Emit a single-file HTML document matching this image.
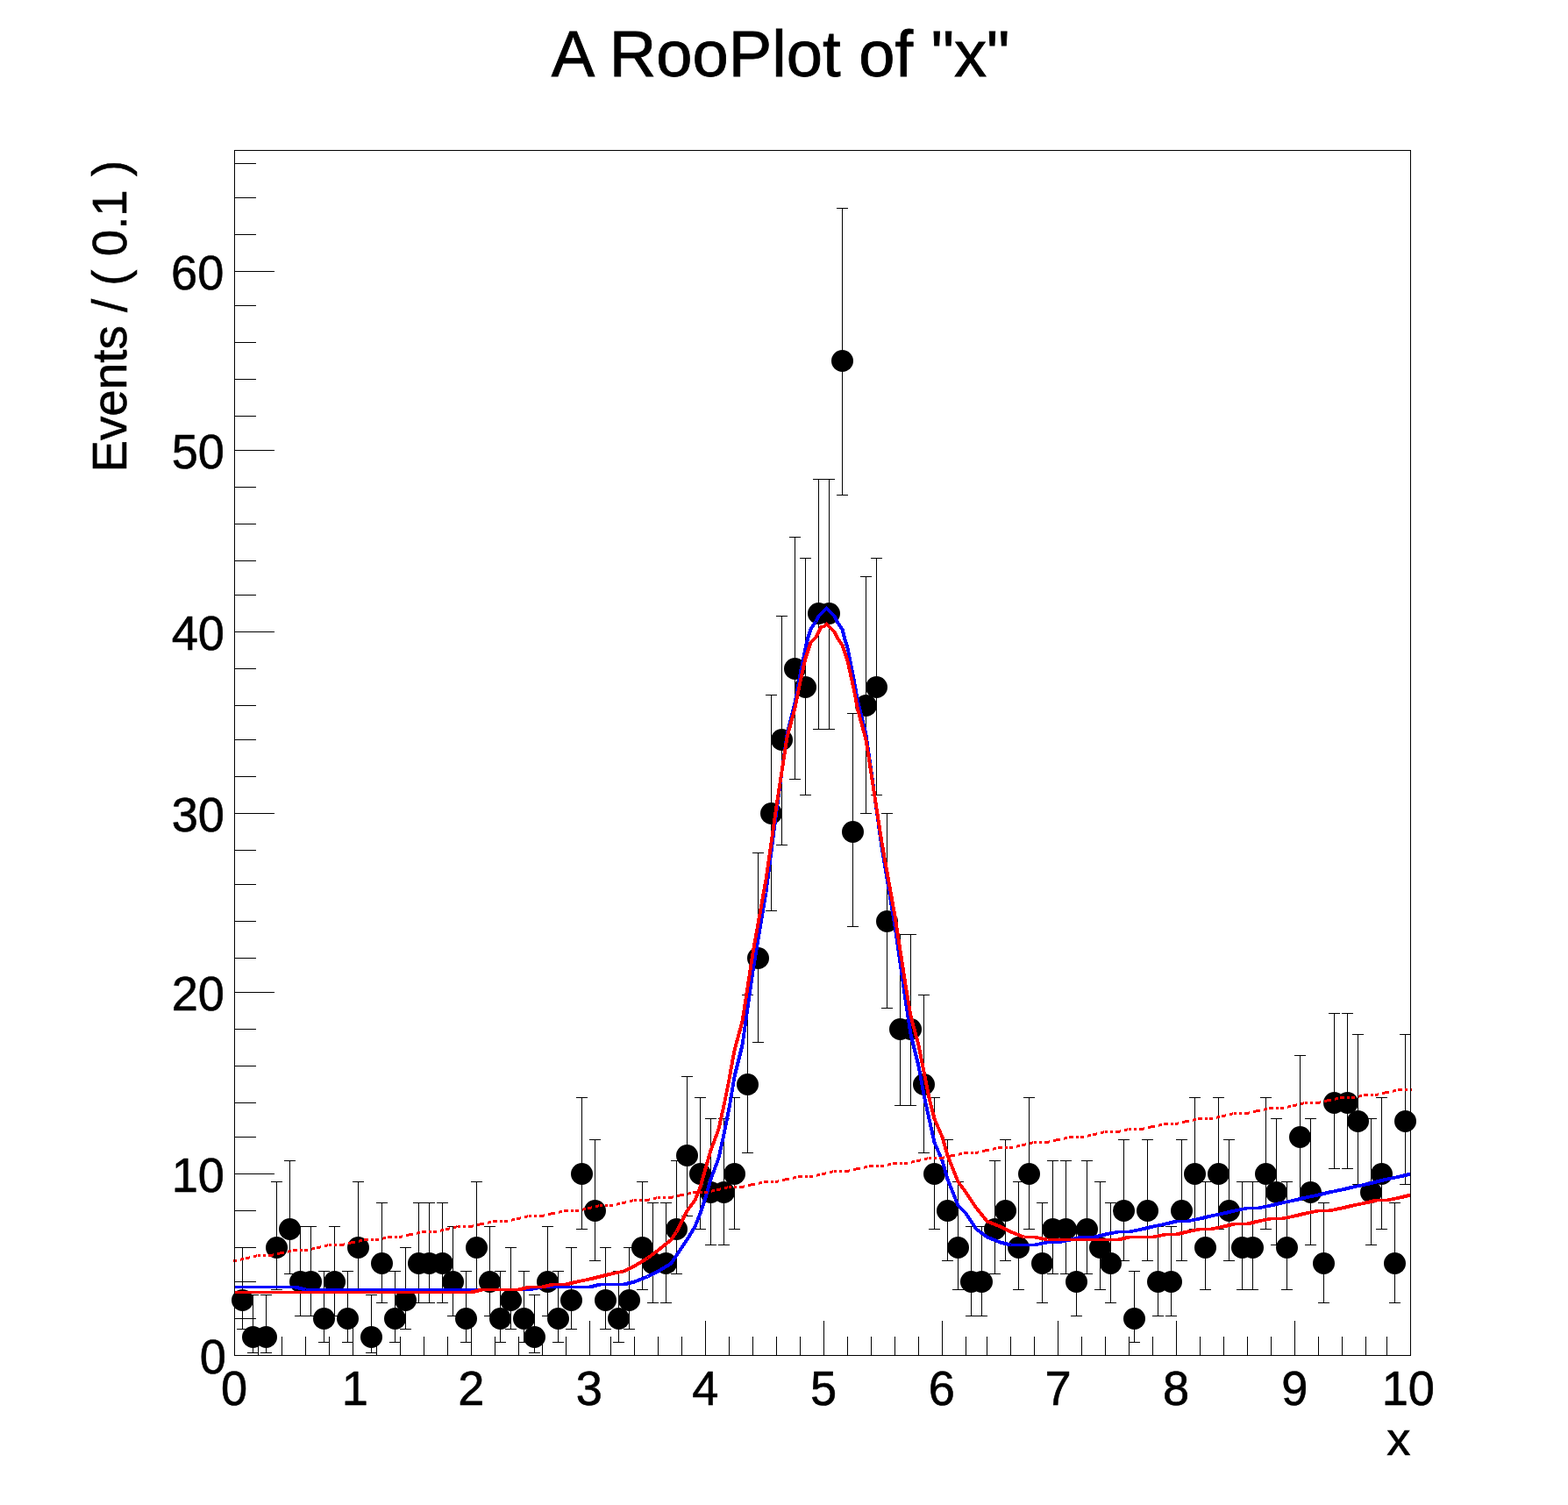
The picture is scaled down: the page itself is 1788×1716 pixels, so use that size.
<!DOCTYPE html>
<html><head><meta charset="utf-8"><title>A RooPlot of "x"</title>
<style>html,body{margin:0;padding:0;background:#fff}svg{display:block}text{font-family:"Liberation Sans",sans-serif;fill:#000}</style>
</head><body>
<svg width="1788" height="1716" viewBox="0 0 1788 1716">
<rect x="0" y="0" width="1788" height="1716" fill="#fff"/>
<g stroke="#000" stroke-width="1" fill="none" shape-rendering="crispEdges">
<path d="M276.5 1422V1516M270 1422.5h13M270 1515.5h13M288.5 1476V1543M282 1476.5h13M282 1542.5h13M303.5 1476V1543M297 1476.5h13M297 1542.5h13M315.5 1347V1471M309 1347.5h13M309 1470.5h13M330.5 1323V1453M324 1323.5h13M324 1452.5h13M342.5 1398V1501M336 1398.5h13M336 1500.5h13M354.5 1398V1501M348 1398.5h13M348 1500.5h13M369.5 1449V1531M363 1449.5h13M363 1530.5h13M381.5 1398V1501M375 1398.5h13M375 1500.5h13M396.5 1449V1531M390 1449.5h13M390 1530.5h13M408.5 1347V1471M402 1347.5h13M402 1470.5h13M423.5 1476V1543M417 1476.5h13M417 1542.5h13M435.5 1371V1486M429 1371.5h13M429 1485.5h13M450.5 1449V1531M444 1449.5h13M444 1530.5h13M462.5 1422V1516M456 1422.5h13M456 1515.5h13M477.5 1371V1486M471 1371.5h13M471 1485.5h13M489.5 1371V1486M483 1371.5h13M483 1485.5h13M504.5 1371V1486M498 1371.5h13M498 1485.5h13M516.5 1398V1501M510 1398.5h13M510 1500.5h13M531.5 1449V1531M525 1449.5h13M525 1530.5h13M543.5 1347V1471M537 1347.5h13M537 1470.5h13M558.5 1398V1501M552 1398.5h13M552 1500.5h13M570.5 1449V1531M564 1449.5h13M564 1530.5h13M582.5 1422V1516M576 1422.5h13M576 1515.5h13M597.5 1449V1531M591 1449.5h13M591 1530.5h13M609.5 1476V1543M603 1476.5h13M603 1542.5h13M624.5 1398V1501M618 1398.5h13M618 1500.5h13M636.5 1449V1531M630 1449.5h13M630 1530.5h13M651.5 1422V1516M645 1422.5h13M645 1515.5h13M663.5 1251V1402M657 1251.5h13M657 1401.5h13M678.5 1299V1438M672 1299.5h13M672 1437.5h13M690.5 1422V1516M684 1422.5h13M684 1515.5h13M705.5 1449V1531M699 1449.5h13M699 1530.5h13M717.5 1422V1516M711 1422.5h13M711 1515.5h13M732.5 1347V1471M726 1347.5h13M726 1470.5h13M744.5 1371V1486M738 1371.5h13M738 1485.5h13M759.5 1371V1486M753 1371.5h13M753 1485.5h13M771.5 1323V1453M765 1323.5h13M765 1452.5h13M783.5 1227V1387M777 1227.5h13M777 1386.5h13M798.5 1251V1402M792 1251.5h13M792 1401.5h13M810.5 1275V1420M804 1275.5h13M804 1419.5h13M825.5 1275V1420M819 1275.5h13M819 1419.5h13M837.5 1251V1402M831 1251.5h13M831 1401.5h13M852.5 1134V1315M846 1134.5h13M846 1314.5h13M864.5 972V1189M858 972.5h13M858 1188.5h13M879.5 792V1039M873 792.5h13M873 1038.5h13M891.5 702V964M885 702.5h13M885 963.5h13M906.5 612V889M900 612.5h13M900 888.5h13M918.5 636V907M912 636.5h13M912 906.5h13M933.5 546V832M927 546.5h13M927 831.5h13M945.5 546V832M939 546.5h13M939 831.5h13M960.5 237V565M954 237.5h13M954 564.5h13M972.5 813V1057M966 813.5h13M966 1056.5h13M987.5 657V928M981 657.5h13M981 927.5h13M999.5 636V907M993 636.5h13M993 906.5h13M1011.5 927V1150M1005 927.5h13M1005 1149.5h13M1026.5 1065V1261M1020 1065.5h13M1020 1260.5h13M1038.5 1065V1261M1032 1065.5h13M1032 1260.5h13M1053.5 1134V1315M1047 1134.5h13M1047 1314.5h13M1065.5 1251V1402M1059 1251.5h13M1059 1401.5h13M1080.5 1299V1438M1074 1299.5h13M1074 1437.5h13M1092.5 1347V1471M1086 1347.5h13M1086 1470.5h13M1107.5 1398V1501M1101 1398.5h13M1101 1500.5h13M1119.5 1398V1501M1113 1398.5h13M1113 1500.5h13M1134.5 1323V1453M1128 1323.5h13M1128 1452.5h13M1146.5 1299V1438M1140 1299.5h13M1140 1437.5h13M1161.5 1347V1471M1155 1347.5h13M1155 1470.5h13M1173.5 1251V1402M1167 1251.5h13M1167 1401.5h13M1188.5 1371V1486M1182 1371.5h13M1182 1485.5h13M1200.5 1323V1453M1194 1323.5h13M1194 1452.5h13M1215.5 1323V1453M1209 1323.5h13M1209 1452.5h13M1227.5 1398V1501M1221 1398.5h13M1221 1500.5h13M1239.5 1323V1453M1233 1323.5h13M1233 1452.5h13M1254.5 1347V1471M1248 1347.5h13M1248 1470.5h13M1266.5 1371V1486M1260 1371.5h13M1260 1485.5h13M1281.5 1299V1438M1275 1299.5h13M1275 1437.5h13M1293.5 1449V1531M1287 1449.5h13M1287 1530.5h13M1308.5 1299V1438M1302 1299.5h13M1302 1437.5h13M1320.5 1398V1501M1314 1398.5h13M1314 1500.5h13M1335.5 1398V1501M1329 1398.5h13M1329 1500.5h13M1347.5 1299V1438M1341 1299.5h13M1341 1437.5h13M1362.5 1251V1402M1356 1251.5h13M1356 1401.5h13M1374.5 1347V1471M1368 1347.5h13M1368 1470.5h13M1389.5 1251V1402M1383 1251.5h13M1383 1401.5h13M1401.5 1299V1438M1395 1299.5h13M1395 1437.5h13M1416.5 1347V1471M1410 1347.5h13M1410 1470.5h13M1428.5 1347V1471M1422 1347.5h13M1422 1470.5h13M1443.5 1251V1402M1437 1251.5h13M1437 1401.5h13M1455.5 1275V1420M1449 1275.5h13M1449 1419.5h13M1467.5 1347V1471M1461 1347.5h13M1461 1470.5h13M1482.5 1203V1369M1476 1203.5h13M1476 1368.5h13M1494.5 1275V1420M1488 1275.5h13M1488 1419.5h13M1509.5 1371V1486M1503 1371.5h13M1503 1485.5h13M1521.5 1155V1333M1515 1155.5h13M1515 1332.5h13M1536.5 1155V1333M1530 1155.5h13M1530 1332.5h13M1548.5 1179V1351M1542 1179.5h13M1542 1350.5h13M1563.5 1275V1420M1557 1275.5h13M1557 1419.5h13M1575.5 1251V1402M1569 1251.5h13M1569 1401.5h13M1590.5 1371V1486M1584 1371.5h13M1584 1485.5h13M1602.5 1179V1351M1596 1179.5h13M1596 1350.5h13"/>
</g>
<g fill="#000"><circle cx="276.5" cy="1482.5" r="12.5"/><circle cx="288.5" cy="1524.5" r="12.5"/><circle cx="303.5" cy="1524.5" r="12.5"/><circle cx="315.5" cy="1422.5" r="12.5"/><circle cx="330.5" cy="1401.5" r="12.5"/><circle cx="342.5" cy="1461.5" r="12.5"/><circle cx="354.5" cy="1461.5" r="12.5"/><circle cx="369.5" cy="1503.5" r="12.5"/><circle cx="381.5" cy="1461.5" r="12.5"/><circle cx="396.5" cy="1503.5" r="12.5"/><circle cx="408.5" cy="1422.5" r="12.5"/><circle cx="423.5" cy="1524.5" r="12.5"/><circle cx="435.5" cy="1440.5" r="12.5"/><circle cx="450.5" cy="1503.5" r="12.5"/><circle cx="462.5" cy="1482.5" r="12.5"/><circle cx="477.5" cy="1440.5" r="12.5"/><circle cx="489.5" cy="1440.5" r="12.5"/><circle cx="504.5" cy="1440.5" r="12.5"/><circle cx="516.5" cy="1461.5" r="12.5"/><circle cx="531.5" cy="1503.5" r="12.5"/><circle cx="543.5" cy="1422.5" r="12.5"/><circle cx="558.5" cy="1461.5" r="12.5"/><circle cx="570.5" cy="1503.5" r="12.5"/><circle cx="582.5" cy="1482.5" r="12.5"/><circle cx="597.5" cy="1503.5" r="12.5"/><circle cx="609.5" cy="1524.5" r="12.5"/><circle cx="624.5" cy="1461.5" r="12.5"/><circle cx="636.5" cy="1503.5" r="12.5"/><circle cx="651.5" cy="1482.5" r="12.5"/><circle cx="663.5" cy="1338.5" r="12.5"/><circle cx="678.5" cy="1380.5" r="12.5"/><circle cx="690.5" cy="1482.5" r="12.5"/><circle cx="705.5" cy="1503.5" r="12.5"/><circle cx="717.5" cy="1482.5" r="12.5"/><circle cx="732.5" cy="1422.5" r="12.5"/><circle cx="744.5" cy="1440.5" r="12.5"/><circle cx="759.5" cy="1440.5" r="12.5"/><circle cx="771.5" cy="1401.5" r="12.5"/><circle cx="783.5" cy="1317.5" r="12.5"/><circle cx="798.5" cy="1338.5" r="12.5"/><circle cx="810.5" cy="1359.5" r="12.5"/><circle cx="825.5" cy="1359.5" r="12.5"/><circle cx="837.5" cy="1338.5" r="12.5"/><circle cx="852.5" cy="1236.5" r="12.5"/><circle cx="864.5" cy="1092.5" r="12.5"/><circle cx="879.5" cy="927.5" r="12.5"/><circle cx="891.5" cy="843.5" r="12.5"/><circle cx="906.5" cy="762.5" r="12.5"/><circle cx="918.5" cy="783.5" r="12.5"/><circle cx="933.5" cy="699.5" r="12.5"/><circle cx="945.5" cy="699.5" r="12.5"/><circle cx="960.5" cy="411.5" r="12.5"/><circle cx="972.5" cy="948.5" r="12.5"/><circle cx="987.5" cy="804.5" r="12.5"/><circle cx="999.5" cy="783.5" r="12.5"/><circle cx="1011.5" cy="1050.5" r="12.5"/><circle cx="1026.5" cy="1173.5" r="12.5"/><circle cx="1038.5" cy="1173.5" r="12.5"/><circle cx="1053.5" cy="1236.5" r="12.5"/><circle cx="1065.5" cy="1338.5" r="12.5"/><circle cx="1080.5" cy="1380.5" r="12.5"/><circle cx="1092.5" cy="1422.5" r="12.5"/><circle cx="1107.5" cy="1461.5" r="12.5"/><circle cx="1119.5" cy="1461.5" r="12.5"/><circle cx="1134.5" cy="1401.5" r="12.5"/><circle cx="1146.5" cy="1380.5" r="12.5"/><circle cx="1161.5" cy="1422.5" r="12.5"/><circle cx="1173.5" cy="1338.5" r="12.5"/><circle cx="1188.5" cy="1440.5" r="12.5"/><circle cx="1200.5" cy="1401.5" r="12.5"/><circle cx="1215.5" cy="1401.5" r="12.5"/><circle cx="1227.5" cy="1461.5" r="12.5"/><circle cx="1239.5" cy="1401.5" r="12.5"/><circle cx="1254.5" cy="1422.5" r="12.5"/><circle cx="1266.5" cy="1440.5" r="12.5"/><circle cx="1281.5" cy="1380.5" r="12.5"/><circle cx="1293.5" cy="1503.5" r="12.5"/><circle cx="1308.5" cy="1380.5" r="12.5"/><circle cx="1320.5" cy="1461.5" r="12.5"/><circle cx="1335.5" cy="1461.5" r="12.5"/><circle cx="1347.5" cy="1380.5" r="12.5"/><circle cx="1362.5" cy="1338.5" r="12.5"/><circle cx="1374.5" cy="1422.5" r="12.5"/><circle cx="1389.5" cy="1338.5" r="12.5"/><circle cx="1401.5" cy="1380.5" r="12.5"/><circle cx="1416.5" cy="1422.5" r="12.5"/><circle cx="1428.5" cy="1422.5" r="12.5"/><circle cx="1443.5" cy="1338.5" r="12.5"/><circle cx="1455.5" cy="1359.5" r="12.5"/><circle cx="1467.5" cy="1422.5" r="12.5"/><circle cx="1482.5" cy="1296.5" r="12.5"/><circle cx="1494.5" cy="1359.5" r="12.5"/><circle cx="1509.5" cy="1440.5" r="12.5"/><circle cx="1521.5" cy="1257.5" r="12.5"/><circle cx="1536.5" cy="1257.5" r="12.5"/><circle cx="1548.5" cy="1278.5" r="12.5"/><circle cx="1563.5" cy="1359.5" r="12.5"/><circle cx="1575.5" cy="1338.5" r="12.5"/><circle cx="1590.5" cy="1440.5" r="12.5"/><circle cx="1602.5" cy="1278.5" r="12.5"/></g>
<g shape-rendering="crispEdges">
<polyline points="267.5,1467.5 282.5,1467.5 294.5,1467.5 309.5,1467.5 321.5,1467.5 336.5,1467.5 348.5,1470.5 363.5,1470.5 375.5,1470.5 390.5,1470.5 402.5,1470.5 417.5,1470.5 429.5,1470.5 444.5,1470.5 456.5,1470.5 468.5,1470.5 483.5,1470.5 495.5,1470.5 510.5,1470.5 522.5,1470.5 537.5,1470.5 549.5,1470.5 564.5,1470.5 576.5,1470.5 591.5,1470.5 603.5,1470.5 618.5,1467.5 630.5,1467.5 645.5,1467.5 657.5,1467.5 672.5,1467.5 684.5,1464.5 696.5,1464.5 711.5,1464.5 723.5,1461.5 738.5,1455.5 750.5,1449.5 765.5,1440.5 771.5,1431.5 777.5,1422.5 783.5,1413.5 792.5,1398.5 798.5,1383.5 804.5,1365.5 810.5,1344.5 819.5,1320.5 825.5,1293.5 831.5,1263.5 837.5,1227.5 846.5,1191.5 852.5,1149.5 858.5,1107.5 873.5,1017.5 885.5,924.5 891.5,879.5 897.5,837.5 906.5,801.5 912.5,768.5 918.5,738.5 921.5,726.5 924.5,717.5 930.5,708.5 933.5,702.5 936.5,699.5 939.5,696.5 942.5,693.5 945.5,696.5 948.5,699.5 951.5,702.5 954.5,708.5 960.5,717.5 963.5,729.5 966.5,738.5 972.5,768.5 978.5,801.5 987.5,837.5 993.5,879.5 1005.5,966.5 1020.5,1056.5 1026.5,1098.5 1032.5,1140.5 1038.5,1179.5 1047.5,1215.5 1053.5,1248.5 1059.5,1275.5 1065.5,1302.5 1074.5,1323.5 1080.5,1344.5 1086.5,1359.5 1092.5,1374.5 1101.5,1383.5 1107.5,1392.5 1113.5,1401.5 1125.5,1410.5 1140.5,1416.5 1152.5,1419.5 1167.5,1419.5 1179.5,1419.5 1194.5,1416.5 1206.5,1416.5 1221.5,1413.5 1233.5,1410.5 1248.5,1410.5 1260.5,1407.5 1275.5,1404.5 1287.5,1404.5 1302.5,1401.5 1314.5,1398.5 1329.5,1395.5 1341.5,1392.5 1353.5,1392.5 1368.5,1389.5 1380.5,1386.5 1395.5,1383.5 1407.5,1380.5 1422.5,1377.5 1434.5,1377.5 1449.5,1374.5 1461.5,1371.5 1476.5,1368.5 1488.5,1365.5 1503.5,1362.5 1515.5,1359.5 1530.5,1356.5 1542.5,1353.5 1557.5,1350.5 1569.5,1347.5 1581.5,1344.5 1596.5,1341.5 1608.5,1338.5" fill="none" stroke="#0000ff" stroke-width="3.9" stroke-linejoin="round"/>
<polyline points="267.5,1473.5 282.5,1473.5 294.5,1473.5 309.5,1473.5 321.5,1473.5 336.5,1473.5 348.5,1473.5 363.5,1473.5 375.5,1473.5 390.5,1473.5 402.5,1473.5 417.5,1473.5 429.5,1473.5 444.5,1473.5 456.5,1473.5 468.5,1473.5 483.5,1473.5 495.5,1473.5 510.5,1473.5 522.5,1473.5 537.5,1473.5 549.5,1470.5 564.5,1470.5 576.5,1470.5 591.5,1470.5 603.5,1467.5 618.5,1467.5 630.5,1464.5 645.5,1464.5 657.5,1461.5 672.5,1458.5 684.5,1455.5 696.5,1452.5 711.5,1449.5 723.5,1443.5 738.5,1434.5 750.5,1425.5 765.5,1413.5 771.5,1404.5 777.5,1392.5 783.5,1380.5 792.5,1368.5 798.5,1353.5 804.5,1332.5 810.5,1311.5 819.5,1287.5 825.5,1260.5 831.5,1230.5 837.5,1197.5 846.5,1164.5 852.5,1125.5 858.5,1086.5 873.5,1002.5 885.5,918.5 891.5,879.5 897.5,840.5 906.5,807.5 912.5,777.5 918.5,750.5 924.5,732.5 930.5,726.5 933.5,720.5 936.5,714.5 939.5,714.5 942.5,711.5 945.5,714.5 948.5,717.5 951.5,720.5 954.5,726.5 960.5,735.5 966.5,753.5 972.5,780.5 978.5,810.5 987.5,843.5 993.5,882.5 1005.5,960.5 1020.5,1044.5 1026.5,1083.5 1032.5,1122.5 1038.5,1158.5 1047.5,1191.5 1053.5,1221.5 1059.5,1251.5 1065.5,1275.5 1074.5,1296.5 1080.5,1317.5 1086.5,1332.5 1092.5,1347.5 1101.5,1359.5 1107.5,1368.5 1113.5,1377.5 1125.5,1392.5 1140.5,1398.5 1152.5,1404.5 1167.5,1410.5 1179.5,1410.5 1194.5,1413.5 1206.5,1413.5 1221.5,1413.5 1233.5,1413.5 1248.5,1413.5 1260.5,1413.5 1275.5,1413.5 1287.5,1410.5 1302.5,1410.5 1314.5,1410.5 1329.5,1407.5 1341.5,1407.5 1353.5,1404.5 1368.5,1401.5 1380.5,1401.5 1395.5,1398.5 1407.5,1395.5 1422.5,1395.5 1434.5,1392.5 1449.5,1389.5 1461.5,1389.5 1476.5,1386.5 1488.5,1383.5 1503.5,1380.5 1515.5,1380.5 1530.5,1377.5 1542.5,1374.5 1557.5,1371.5 1569.5,1368.5 1581.5,1368.5 1596.5,1365.5 1608.5,1362.5" fill="none" stroke="#ff0000" stroke-width="3.9" stroke-linejoin="round"/>
</g>
<path d="M266 1436h4v3h-4zM274 1435h1v3h-1zM275 1434h3v3h-3zM280 1433h4v3h-4zM284 1432h1v3h-1zM289 1431h3v3h-3zM292 1430h1v3h-1zM294 1430h3v3h-3zM300 1430h3v3h-3zM306 1430h5v3h-5zM311 1429h1v3h-1zM316 1428h3v3h-3zM319 1427h5v3h-5zM328 1426h1v3h-1zM329 1425h3v3h-3zM334 1424h5v3h-5zM342 1424h3v3h-3zM347 1424h4v3h-4zM355 1423h1v3h-1zM356 1422h3v3h-3zM361 1421h4v3h-4zM365 1420h1v3h-1zM370 1419h3v3h-3zM373 1418h1v3h-1zM375 1418h3v3h-3zM381 1418h3v3h-3zM387 1418h5v3h-5zM392 1417h1v3h-1zM397 1416h3v3h-3zM400 1415h5v3h-5zM409 1414h1v3h-1zM410 1413h3v3h-3zM415 1412h5v3h-5zM423 1412h3v3h-3zM428 1412h4v3h-4zM436 1411h1v3h-1zM437 1410h3v3h-3zM442 1409h5v3h-5zM450 1409h3v3h-3zM455 1409h3v3h-3zM458 1408h1v3h-1zM463 1407h3v3h-3zM466 1406h5v3h-5zM475 1405h1v3h-1zM476 1404h3v3h-3zM481 1403h5v3h-5zM489 1403h3v3h-3zM494 1403h4v3h-4zM502 1402h1v3h-1zM503 1401h3v3h-3zM508 1400h4v3h-4zM512 1399h1v3h-1zM517 1398h3v3h-3zM520 1397h1v3h-1zM522 1397h3v3h-3zM528 1397h3v3h-3zM534 1397h5v3h-5zM539 1396h1v3h-1zM544 1395h3v3h-3zM547 1394h5v3h-5zM556 1393h1v3h-1zM557 1392h3v3h-3zM562 1391h5v3h-5zM570 1391h3v3h-3zM575 1391h4v3h-4zM583 1390h1v3h-1zM584 1389h3v3h-3zM589 1388h4v3h-4zM593 1387h1v3h-1zM598 1386h3v3h-3zM601 1385h1v3h-1zM603 1385h3v3h-3zM609 1385h3v3h-3zM615 1385h5v3h-5zM620 1384h1v3h-1zM625 1383h3v3h-3zM628 1382h5v3h-5zM637 1381h1v3h-1zM638 1380h3v3h-3zM643 1379h5v3h-5zM651 1379h3v3h-3zM656 1379h4v3h-4zM664 1378h1v3h-1zM665 1377h3v3h-3zM670 1376h4v3h-4zM674 1375h1v3h-1zM679 1374h3v3h-3zM682 1373h1v3h-1zM684 1373h3v3h-3zM690 1373h3v3h-3zM695 1373h4v3h-4zM703 1372h1v3h-1zM704 1371h3v3h-3zM709 1370h4v3h-4zM713 1369h1v3h-1zM718 1368h3v3h-3zM721 1367h1v3h-1zM723 1367h3v3h-3zM729 1367h3v3h-3zM735 1367h5v3h-5zM740 1366h1v3h-1zM745 1365h3v3h-3zM748 1364h1v3h-1zM750 1364h3v3h-3zM756 1364h3v3h-3zM762 1364h5v3h-5zM767 1363h1v3h-1zM772 1362h3v3h-3zM775 1361h5v3h-5zM784 1360h1v3h-1zM785 1359h3v3h-3zM790 1358h5v3h-5zM798 1358h3v3h-3zM803 1358h4v3h-4zM811 1357h1v3h-1zM812 1356h3v3h-3zM817 1355h4v3h-4zM821 1354h1v3h-1zM826 1353h3v3h-3zM829 1352h1v3h-1zM831 1352h3v3h-3zM837 1352h3v3h-3zM843 1352h5v3h-5zM848 1351h1v3h-1zM853 1350h3v3h-3zM856 1349h5v3h-5zM865 1348h1v3h-1zM866 1347h3v3h-3zM871 1346h5v3h-5zM879 1346h3v3h-3zM884 1346h3v3h-3zM887 1345h1v3h-1zM892 1344h3v3h-3zM895 1343h5v3h-5zM904 1342h1v3h-1zM905 1341h3v3h-3zM910 1340h5v3h-5zM918 1340h3v3h-3zM923 1340h4v3h-4zM931 1339h1v3h-1zM932 1338h3v3h-3zM937 1337h4v3h-4zM941 1336h1v3h-1zM946 1335h3v3h-3zM949 1334h1v3h-1zM951 1334h3v3h-3zM957 1334h3v3h-3zM963 1334h5v3h-5zM968 1333h1v3h-1zM973 1332h3v3h-3zM976 1331h5v3h-5zM985 1330h1v3h-1zM986 1329h3v3h-3zM991 1328h5v3h-5zM999 1328h3v3h-3zM1004 1328h4v3h-4zM1012 1327h1v3h-1zM1013 1326h3v3h-3zM1018 1325h5v3h-5zM1026 1325h3v3h-3zM1031 1325h4v3h-4zM1039 1324h1v3h-1zM1040 1323h3v3h-3zM1045 1322h4v3h-4zM1049 1321h1v3h-1zM1054 1320h3v3h-3zM1057 1319h1v3h-1zM1059 1319h3v3h-3zM1065 1319h3v3h-3zM1071 1319h5v3h-5zM1076 1318h1v3h-1zM1081 1317h3v3h-3zM1084 1316h5v3h-5zM1093 1315h1v3h-1zM1094 1314h3v3h-3zM1099 1313h5v3h-5zM1107 1313h3v3h-3zM1112 1313h3v3h-3zM1115 1312h1v3h-1zM1120 1311h3v3h-3zM1123 1310h5v3h-5zM1132 1309h1v3h-1zM1133 1308h3v3h-3zM1138 1307h5v3h-5zM1146 1307h3v3h-3zM1151 1307h4v3h-4zM1159 1306h1v3h-1zM1160 1305h3v3h-3zM1165 1304h4v3h-4zM1169 1303h1v3h-1zM1174 1302h3v3h-3zM1177 1301h1v3h-1zM1179 1301h3v3h-3zM1185 1301h3v3h-3zM1191 1301h5v3h-5zM1196 1300h1v3h-1zM1201 1299h3v3h-3zM1204 1298h5v3h-5zM1213 1297h1v3h-1zM1214 1296h3v3h-3zM1219 1295h5v3h-5zM1227 1295h3v3h-3zM1232 1295h4v3h-4zM1240 1294h1v3h-1zM1241 1293h3v3h-3zM1246 1292h4v3h-4zM1250 1291h1v3h-1zM1255 1290h3v3h-3zM1258 1289h1v3h-1zM1260 1289h3v3h-3zM1266 1289h3v3h-3zM1272 1289h5v3h-5zM1277 1288h1v3h-1zM1282 1287h3v3h-3zM1285 1286h1v3h-1zM1287 1286h3v3h-3zM1293 1286h3v3h-3zM1299 1286h5v3h-5zM1304 1285h1v3h-1zM1309 1284h3v3h-3zM1312 1283h5v3h-5zM1321 1282h1v3h-1zM1322 1281h3v3h-3zM1327 1280h5v3h-5zM1335 1280h3v3h-3zM1340 1280h3v3h-3zM1343 1279h1v3h-1zM1348 1278h3v3h-3zM1351 1277h5v3h-5zM1360 1276h1v3h-1zM1361 1275h3v3h-3zM1366 1274h5v3h-5zM1374 1274h3v3h-3zM1379 1274h4v3h-4zM1387 1273h1v3h-1zM1388 1272h3v3h-3zM1393 1271h4v3h-4zM1397 1270h1v3h-1zM1402 1269h3v3h-3zM1405 1268h1v3h-1zM1407 1268h3v3h-3zM1413 1268h3v3h-3zM1419 1268h5v3h-5zM1424 1267h1v3h-1zM1429 1266h3v3h-3zM1432 1265h5v3h-5zM1441 1264h1v3h-1zM1442 1263h3v3h-3zM1447 1262h5v3h-5zM1455 1262h3v3h-3zM1460 1262h4v3h-4zM1468 1261h1v3h-1zM1469 1260h3v3h-3zM1474 1259h4v3h-4zM1478 1258h1v3h-1zM1483 1257h3v3h-3zM1486 1256h1v3h-1zM1488 1256h3v3h-3zM1494 1256h3v3h-3zM1500 1256h5v3h-5zM1505 1255h1v3h-1zM1510 1254h3v3h-3zM1513 1253h5v3h-5zM1522 1252h1v3h-1zM1523 1251h3v3h-3zM1528 1250h5v3h-5zM1536 1250h3v3h-3zM1541 1250h4v3h-4zM1549 1249h1v3h-1zM1550 1248h3v3h-3zM1555 1247h5v3h-5zM1563 1247h3v3h-3zM1568 1247h3v3h-3zM1571 1246h1v3h-1zM1576 1245h3v3h-3zM1579 1244h5v3h-5zM1588 1243h1v3h-1zM1589 1242h3v3h-3zM1594 1241h5v3h-5zM1602 1241h3v3h-3zM1608 1241h2v3h-2z" fill="#ff0000" shape-rendering="crispEdges"/>
<g stroke="#000" stroke-width="1" fill="none" shape-rendering="crispEdges">
<rect x="267.5" y="171.5" width="1341.0" height="1374.0"/>
<path d="M267.5 1545v-39M294.5 1545v-21M321.5 1545v-21M348.5 1545v-21M375.5 1545v-21M402.5 1545v-39M429.5 1545v-21M456.5 1545v-21M483.5 1545v-21M510.5 1545v-21M537.5 1545v-39M564.5 1545v-21M591.5 1545v-21M618.5 1545v-21M645.5 1545v-21M672.5 1545v-39M696.5 1545v-21M723.5 1545v-21M750.5 1545v-21M777.5 1545v-21M804.5 1545v-39M831.5 1545v-21M858.5 1545v-21M885.5 1545v-21M912.5 1545v-21M939.5 1545v-39M966.5 1545v-21M993.5 1545v-21M1020.5 1545v-21M1047.5 1545v-21M1074.5 1545v-39M1101.5 1545v-21M1125.5 1545v-21M1152.5 1545v-21M1179.5 1545v-21M1206.5 1545v-39M1233.5 1545v-21M1260.5 1545v-21M1287.5 1545v-21M1314.5 1545v-21M1341.5 1545v-39M1368.5 1545v-21M1395.5 1545v-21M1422.5 1545v-21M1449.5 1545v-21M1476.5 1545v-39M1503.5 1545v-21M1530.5 1545v-21M1557.5 1545v-21M1581.5 1545v-21M1608.5 1545v-39M267 1545.5h46M267 1503.5h25M267 1461.5h25M267 1422.5h25M267 1380.5h25M267 1338.5h46M267 1296.5h25M267 1257.5h25M267 1215.5h25M267 1173.5h25M267 1131.5h46M267 1092.5h25M267 1050.5h25M267 1008.5h25M267 969.5h25M267 927.5h46M267 885.5h25M267 843.5h25M267 804.5h25M267 762.5h25M267 720.5h46M267 678.5h25M267 639.5h25M267 597.5h25M267 555.5h25M267 513.5h46M267 474.5h25M267 432.5h25M267 390.5h25M267 348.5h25M267 309.5h46M267 267.5h25M267 225.5h25M267 186.5h25"/>
</g>
<text transform="translate(267.15,1602.40) scale(1,1.037)" font-size="54.2" text-anchor="middle" stroke="#000" stroke-width="0.6">0</text>
<text transform="translate(404.90,1602.40) scale(1,1.037)" font-size="54.2" text-anchor="middle" stroke="#000" stroke-width="0.6">1</text>
<text transform="translate(537.27,1602.40) scale(1,1.037)" font-size="54.2" text-anchor="middle" stroke="#000" stroke-width="0.6">2</text>
<text transform="translate(671.71,1602.40) scale(1,1.037)" font-size="54.2" text-anchor="middle" stroke="#000" stroke-width="0.6">3</text>
<text transform="translate(804.31,1602.40) scale(1,1.037)" font-size="54.2" text-anchor="middle" stroke="#000" stroke-width="0.6">4</text>
<text transform="translate(938.95,1602.40) scale(1,1.037)" font-size="54.2" text-anchor="middle" stroke="#000" stroke-width="0.6">5</text>
<text transform="translate(1073.70,1602.40) scale(1,1.037)" font-size="54.2" text-anchor="middle" stroke="#000" stroke-width="0.6">6</text>
<text transform="translate(1206.55,1602.40) scale(1,1.037)" font-size="54.2" text-anchor="middle" stroke="#000" stroke-width="0.6">7</text>
<text transform="translate(1340.94,1602.40) scale(1,1.037)" font-size="54.2" text-anchor="middle" stroke="#000" stroke-width="0.6">8</text>
<text transform="translate(1476.25,1602.40) scale(1,1.037)" font-size="54.2" text-anchor="middle" stroke="#000" stroke-width="0.6">9</text>
<text transform="translate(1605.87,1602.40) scale(1,1.037)" font-size="54.2" text-anchor="middle" stroke="#000" stroke-width="0.6">10</text>
<text transform="translate(258.00,1565.70) scale(1,1.037)" font-size="54.2" text-anchor="end" stroke="#000" stroke-width="0.6">0</text>
<text transform="translate(255.94,1359.40) scale(1,1.037)" font-size="54.2" text-anchor="end" stroke="#000" stroke-width="0.6">10</text>
<text transform="translate(255.94,1152.10) scale(1,1.037)" font-size="54.2" text-anchor="end" stroke="#000" stroke-width="0.6">20</text>
<text transform="translate(255.94,948.10) scale(1,1.037)" font-size="54.2" text-anchor="end" stroke="#000" stroke-width="0.6">30</text>
<text transform="translate(255.94,741.10) scale(1,1.037)" font-size="54.2" text-anchor="end" stroke="#000" stroke-width="0.6">40</text>
<text transform="translate(255.94,533.80) scale(1,1.037)" font-size="54.2" text-anchor="end" stroke="#000" stroke-width="0.6">50</text>
<text transform="translate(255.36,329.80) scale(1,1.037)" font-size="54.2" text-anchor="end" stroke="#000" stroke-width="0.6">60</text>
<text transform="translate(1608.34,1658.85)" font-size="54.4" text-anchor="end" stroke="#000" stroke-width="0.6">x</text>
<text transform="translate(143.57,182.85) rotate(-90)" font-size="54.7" text-anchor="end" stroke="#000" stroke-width="0.6">Events / ( 0.1 )</text>
<text transform="translate(890.04,87.00)" font-size="74.2" text-anchor="middle" stroke="#000" stroke-width="0.8">A RooPlot of &quot;x&quot;</text>
</svg></body></html>
